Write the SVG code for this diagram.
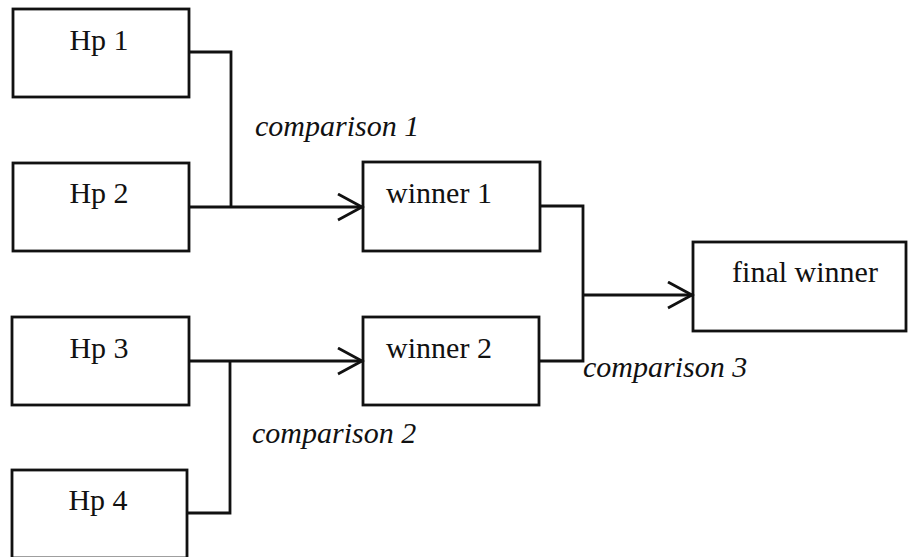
<svg xmlns="http://www.w3.org/2000/svg" width="908" height="557" viewBox="0 0 908 557">
  <style>
    .box { fill: #ffffff; stroke: #111111; stroke-width: 2.8; }
    .wire { fill: none; stroke: #111111; stroke-width: 2.8; }
    .label { font-family: "Liberation Serif", "Times New Roman", serif; font-size: 30px; fill: #111111; }
    .note { font-family: "Liberation Serif", "Times New Roman", serif; font-size: 30px; font-style: italic; fill: #111111; }
  </style>
  <defs>
    <marker id="open-arrow" markerUnits="userSpaceOnUse" markerWidth="30" markerHeight="30" refX="25" refY="14" orient="auto">
      <path d="M1,1 L25,14 L1,27" fill="none" stroke="#111111" stroke-width="2.8"/>
    </marker>
  </defs>
  <rect width="908" height="557" fill="#ffffff"/>

  <g id="hp1">
    <rect class="box" x="13" y="9" width="176" height="88"/>
    <text class="label" x="99" y="50" text-anchor="middle">Hp 1</text>
  </g>
  <g id="hp2">
    <rect class="box" x="13" y="163" width="176" height="88"/>
    <text class="label" x="99" y="203" text-anchor="middle">Hp 2</text>
  </g>
  <g id="hp3">
    <rect class="box" x="12" y="317" width="177" height="88"/>
    <text class="label" x="99" y="358" text-anchor="middle">Hp 3</text>
  </g>
  <g id="hp4">
    <rect class="box" x="12" y="470" width="175" height="88"/>
    <text class="label" x="98" y="510" text-anchor="middle">Hp 4</text>
  </g>
  <g id="winner1">
    <rect class="box" x="363" y="162" width="177" height="89"/>
    <text class="label" x="439" y="203" text-anchor="middle">winner 1</text>
  </g>
  <g id="winner2">
    <rect class="box" x="363" y="317" width="176" height="88"/>
    <text class="label" x="439" y="358" text-anchor="middle">winner 2</text>
  </g>
  <g id="final">
    <rect class="box" x="693" y="242" width="213" height="89"/>
    <text class="label" x="805" y="282" text-anchor="middle">final winner</text>
  </g>

  <g id="connectors">
    <path class="wire" d="M189,52 H231 V207"/>
    <path class="wire" d="M189,207 H362" marker-end="url(#open-arrow)"/>
    <path class="wire" d="M187,513 H230 V361"/>
    <path class="wire" d="M189,361 H362" marker-end="url(#open-arrow)"/>
    <path class="wire" d="M540,206 H583 V361 H539"/>
    <path class="wire" d="M583,295 H692" marker-end="url(#open-arrow)"/>
  </g>

  <g id="labels">
    <text class="note" x="255" y="136">comparison 1</text>
    <text class="note" x="252" y="443">comparison 2</text>
    <text class="note" x="583" y="377">comparison 3</text>
  </g>
</svg>
